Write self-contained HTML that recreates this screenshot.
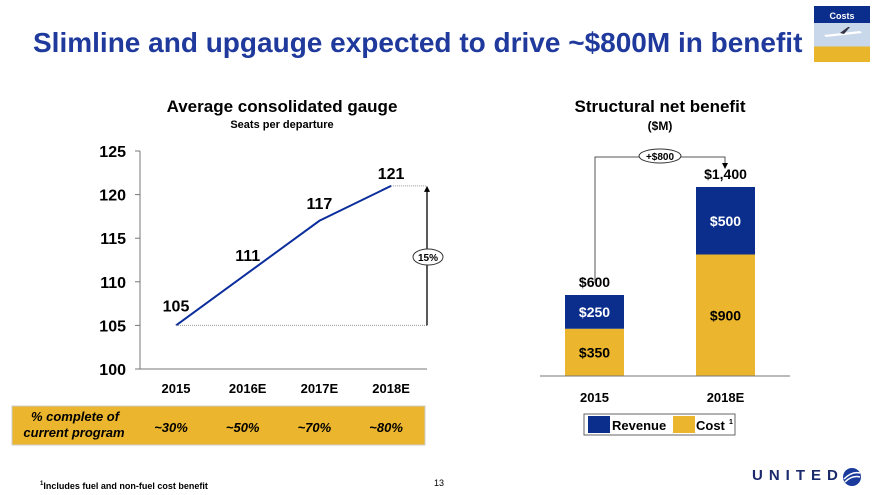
<!DOCTYPE html>
<html><head><meta charset="utf-8"><style>
body{margin:0;width:880px;height:495px;background:#fff;font-family:"Liberation Sans",Arial,sans-serif;overflow:hidden;position:relative}
.t{position:absolute;white-space:nowrap}
</style></head><body>
<div class="t" style="left:33px;top:27px;font-size:28px;font-weight:bold;color:#1f3a9c">Slimline and upgauge expected to drive ~$800M in benefit</div>
<div style="position:absolute;left:814px;top:6px;width:56px;height:56px;background:linear-gradient(#0b2e8c 0 30%,#c9d7ea 30% 72%,#e9b52b 72%)">
<div style="color:#fff;font-size:9px;font-weight:bold;text-align:center;margin-top:5px">Costs</div>
<svg width="56" height="20" style="position:absolute;top:17px;left:0"><path d="M10 12 L46 8 L48 10 L12 14Z" fill="#fff"/><path d="M26 10 L34 4 L36 4 L30 11Z" fill="#334"/></svg></div>
<svg width="880" height="495" style="position:absolute;left:0;top:0" id="svg"></svg>
<div class="t" style="left:40px;top:481px;font-size:9px;font-weight:bold"><sup style="font-size:6px">1</sup>Includes fuel and non-fuel cost benefit</div>
<div class="t" style="left:434px;top:478px;font-size:9px">13</div>
<div class="t" style="left:752px;top:467px;font-size:15px;font-weight:bold;letter-spacing:6px;color:#1a2a6c">UNITED</div>
<svg width="20" height="20" style="position:absolute;left:842px;top:467px"><circle cx="10" cy="10" r="9" fill="#1a3a9c"/><path d="M2 12 Q10 4 18 6 M3 15 Q10 8 18 10" stroke="#fff" stroke-width="1.5" fill="none"/></svg>
<script>
const years=["2015","2016E","2017E","2018E"];
const gauge=[105,111,117,121];
const pctComplete=["~30%","~50%","~70%","~80%"];
const yTicks=[100,105,110,115,120,125];
const barCats=["2015","2018E"];
const costVals=[350,900];
const revVals=[250,500];
const totals=["$600","$1,400"];
const NS="http://www.w3.org/2000/svg";
const svg=document.getElementById('svg');
function mk(tag,attrs,name,txt){const e=document.createElementNS(NS,tag);for(const k in attrs)e.setAttribute(k,attrs[k]);


if(txt!==undefined)e.textContent=txt;svg.appendChild(e);return e;}
// left chart
const yS=v=>369-(v-100)*(218/25);
const xS=i=>176+i*71.7;
mk('text',{x:282,y:112,'font-size':17,'font-weight':'bold','text-anchor':'middle'},'left-chart-title','Average consolidated gauge');
mk('text',{x:282,y:128,'font-size':11,'font-weight':'bold','text-anchor':'middle'},'left-chart-subtitle','Seats per departure');
mk('line',{x1:140,y1:151,x2:140,y2:369,stroke:'#777'},'y-axis');
mk('line',{x1:140,y1:369,x2:427,y2:369,stroke:'#777'},'x-axis');
yTicks.forEach(v=>{mk('line',{x1:135,y1:yS(v),x2:140,y2:yS(v),stroke:'#777'},'y-tick');
mk('text',{x:126,y:yS(v)+6,'font-size':16,'font-weight':'bold','text-anchor':'end'},'y-tick-label',v);});
years.forEach((y,i)=>mk('text',{x:xS(i),y:393,'font-size':13,'font-weight':'bold','text-anchor':'middle'},'x-tick-label',y));
mk('polyline',{points:gauge.map((v,i)=>xS(i)+','+yS(v)).join(' '),fill:'none',stroke:'#0b2e9c','stroke-width':2},'gauge-line');
gauge.forEach((v,i)=>mk('text',{x:xS(i),y:yS(v)-(i==0?14:i==3?7:12),'font-size':16,'font-weight':'bold','text-anchor':'middle'},'data-label',v));
mk('line',{x1:xS(0),y1:yS(gauge[0]),x2:427,y2:yS(gauge[0]),stroke:'#999','stroke-dasharray':'1,1'},'baseline-dotted');
mk('line',{x1:xS(3),y1:yS(gauge[3]),x2:427,y2:yS(gauge[3]),stroke:'#999','stroke-dasharray':'1,1'},'top-dotted');
mk('line',{x1:427,y1:yS(gauge[0]),x2:427,y2:yS(gauge[3])+4,stroke:'#000','stroke-width':1.3},'growth-arrow');
mk('path',{d:`M424 ${yS(gauge[3])+6} L427 ${yS(gauge[3])} L430 ${yS(gauge[3])+6}Z`},'arrow-head');
mk('ellipse',{cx:428,cy:257,rx:15,ry:8,fill:'#fff',stroke:'#333'},'growth-badge');
mk('text',{x:428,y:261,'font-size':10,'font-weight':'bold','text-anchor':'middle'},'growth-label','15%');
mk('rect',{x:12,y:406,width:413,height:39,fill:'#ebb62e',stroke:'#ccc'},'completion-band');
mk('text',{x:75,y:421,'font-size':13,'font-weight':'bold','font-style':'italic','text-anchor':'middle'},'completion-label','% complete of');
mk('text',{x:74,y:437,'font-size':13,'font-weight':'bold','font-style':'italic','text-anchor':'middle'},'completion-label','current program');
pctComplete.forEach((p,i)=>mk('text',{x:xS(i)-5,y:432,'font-size':13,'font-weight':'bold','font-style':'italic','text-anchor':'middle'},'completion-value',p));
// right chart
const bY=376,k=189/1400,bx=[565,696],bw=59;
mk('text',{x:660,y:112,'font-size':17,'font-weight':'bold','text-anchor':'middle'},'right-chart-title','Structural net benefit');
mk('text',{x:660,y:130,'font-size':12,'font-weight':'bold','text-anchor':'middle'},'right-chart-subtitle','($M)');
barCats.forEach((c,i)=>{const ch=costVals[i]*k,rh=revVals[i]*k;
mk('rect',{x:bx[i],y:bY-ch,width:bw,height:ch,fill:'#ebb62e'},'bar-cost-'+c);
mk('rect',{x:bx[i],y:bY-ch-rh,width:bw,height:rh,fill:'#0b2e8c'},'bar-revenue-'+c);
mk('text',{x:bx[i]+bw/2,y:bY-ch/2+5,'font-size':14,'font-weight':'bold','text-anchor':'middle'},'cost-label','$'+costVals[i]);
mk('text',{x:bx[i]+bw/2,y:bY-ch-rh/2+5,'font-size':14,'font-weight':'bold','text-anchor':'middle',fill:'#fff'},'revenue-label','$'+revVals[i]);
mk('text',{x:bx[i]+bw/2,y:bY-ch-rh-8,'font-size':14,'font-weight':'bold','text-anchor':'middle'},'total-label',totals[i]);
mk('text',{x:bx[i]+bw/2,y:402,'font-size':13,'font-weight':'bold','text-anchor':'middle'},'x-tick-label',c);});
mk('line',{x1:540,y1:bY,x2:790,y2:bY,stroke:'#777'},'right-x-axis');
mk('polyline',{points:'595,283 595,157 725,157 725,164',fill:'none',stroke:'#555'},'bracket');
mk('path',{d:'M722 163 L725 169 L728 163Z'},'bracket-arrow');
mk('ellipse',{cx:660,cy:156,rx:21,ry:7,fill:'#fff',stroke:'#333'},'increase-badge');
mk('text',{x:660,y:160,'font-size':10,'font-weight':'bold','text-anchor':'middle'},'increase-label','+$800');
mk('rect',{x:584,y:414,width:151,height:21,fill:'#fff',stroke:'#666'},'legend-box');
mk('rect',{x:588,y:416,width:22,height:17,fill:'#0b2e8c'},'legend-swatch-revenue');
mk('text',{x:612,y:430,'font-size':13,'font-weight':'bold'},'legend-revenue','Revenue');
mk('rect',{x:673,y:416,width:22,height:17,fill:'#ebb62e'},'legend-swatch-cost');
mk('text',{x:696,y:430,'font-size':13,'font-weight':'bold'},'legend-cost','Cost');
mk('text',{x:729,y:424,'font-size':7,'font-weight':'bold'},'legend-footnote-mark','1');
</script>
</body></html>
